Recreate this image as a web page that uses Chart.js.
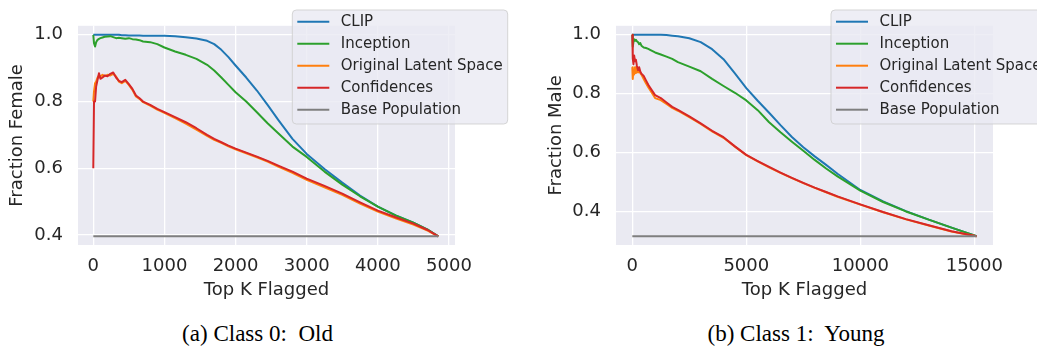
<!DOCTYPE html>
<html>
<head>
<meta charset="utf-8">
<script src="https://cdn.jsdelivr.net/npm/chart.js@4.4.1/dist/chart.umd.min.js"></script>
<style>
  html, body { margin: 0; padding: 0; background: #ffffff; }
  #wrap { position: relative; width: 1037px; height: 351px; overflow: hidden; background: #fff; }
  canvas { position: absolute; top: 0; }
  #c1 { left: 0px; }
  #c2 { left: 520px; }
  .cap { position: absolute; top: 321px; font-family: "Liberation Serif", "DejaVu Serif", serif; font-size: 23px; color: #000; white-space: pre; transform: translateX(-50%); }
</style>
</head>
<body>
<div id="wrap">
  <canvas id="c1" width="518" height="310"></canvas>
  <canvas id="c2" width="517" height="310"></canvas>
  <div class="cap" style="left:257.5px">(a) Class 0:  Old</div>
  <div class="cap" style="left:796px">(b) Class 1:  Young</div>
</div>
<script>
// ---------- Data: (a) Class 0: Old ----------
const seriesLabels = ["CLIP", "Inception", "Original Latent Space", "Confidences", "Base Population"];
const seriesColors = ["#1f77b4", "#2ca02c", "#ff7f0e", "#d62728", "#7f7f7f"];

const oldK = [0, 10, 25, 40, 60, 80, 100, 130, 160, 200, 240, 280, 320, 360, 400, 450, 500, 550, 600, 650, 700, 800, 900, 1000, 1150, 1300, 1450, 1600, 1700, 1800, 1900, 2000, 2150, 2300, 2450, 2600, 2800, 3000, 3250, 3500, 3750, 4000, 4250, 4500, 4700, 4850];
const oldClip = [1.0, 1.0, 1.0, 1.0, 1.0, 1.0, 1.0, 1.0, 1.0, 1.0, 1.0, 1.0, 1.0, 1.0, 0.999, 0.999, 0.998, 0.998, 0.998, 0.998, 0.997, 0.997, 0.997, 0.997, 0.996, 0.993, 0.989, 0.982, 0.972, 0.955, 0.933, 0.908, 0.872, 0.833, 0.79, 0.745, 0.688, 0.643, 0.598, 0.557, 0.518, 0.485, 0.459, 0.437, 0.416, 0.396];
const oldInception = [1.0, 0.975, 0.965, 0.978, 0.985, 0.988, 0.99, 0.992, 0.994, 0.995, 0.996, 0.993, 0.99, 0.991, 0.99, 0.988, 0.99, 0.987, 0.986, 0.984, 0.98, 0.978, 0.972, 0.962, 0.95, 0.94, 0.928, 0.91, 0.893, 0.872, 0.85, 0.828, 0.8, 0.768, 0.735, 0.705, 0.665, 0.634, 0.59, 0.551, 0.516, 0.485, 0.459, 0.437, 0.416, 0.396];
const oldLatent = [0.80, 0.83, 0.855, 0.86, 0.872, 0.878, 0.875, 0.88, 0.876, 0.88, 0.878, 0.883, 0.875, 0.86, 0.855, 0.862, 0.85, 0.835, 0.815, 0.808, 0.798, 0.788, 0.776, 0.766, 0.75, 0.734, 0.716, 0.697, 0.685, 0.676, 0.666, 0.657, 0.645, 0.633, 0.62, 0.605, 0.586, 0.565, 0.543, 0.52, 0.494, 0.47, 0.45, 0.431, 0.413, 0.396];
const oldConf = [0.60, 0.80, 0.80, 0.845, 0.865, 0.885, 0.868, 0.872, 0.878, 0.876, 0.883, 0.887, 0.872, 0.862, 0.858, 0.865, 0.852, 0.838, 0.818, 0.81, 0.80, 0.79, 0.778, 0.768, 0.753, 0.738, 0.72, 0.70, 0.688, 0.678, 0.668, 0.659, 0.647, 0.635, 0.622, 0.608, 0.59, 0.569, 0.547, 0.524, 0.498, 0.473, 0.453, 0.434, 0.415, 0.396];
const oldBaseK = [0, 4850];
const oldBase = [0.396, 0.396];
const oldXTicks = [0, 1000, 2000, 3000, 4000, 5000];
const oldYTicks = [0.4, 0.6, 0.8, 1.0];

// ---------- Data: (b) Class 1: Young ----------
const youngK = [0, 20, 50, 80, 120, 160, 200, 250, 300, 350, 400, 500, 600, 700, 800, 1000, 1250, 1500, 1750, 2000, 2500, 3000, 3500, 4000, 4500, 5000, 5500, 6000, 6500, 7000, 7500, 8000, 8500, 9000, 10000, 11000, 12000, 13000, 14000, 15100];
const youngClip = [1.0, 1.0, 1.0, 1.0, 1.0, 1.0, 1.0, 1.0, 1.0, 1.0, 1.0, 1.0, 1.0, 1.0, 1.0, 1.0, 1.0, 0.999, 0.997, 0.995, 0.988, 0.975, 0.951, 0.917, 0.869, 0.819, 0.776, 0.735, 0.693, 0.653, 0.618, 0.587, 0.558, 0.528, 0.473, 0.434, 0.401, 0.372, 0.345, 0.316];
const youngInception = [1.0, 0.96, 0.975, 0.985, 0.98, 0.983, 0.978, 0.975, 0.968, 0.972, 0.963, 0.957, 0.955, 0.952, 0.948, 0.94, 0.933, 0.926, 0.918, 0.907, 0.892, 0.876, 0.85, 0.826, 0.803, 0.777, 0.744, 0.703, 0.669, 0.637, 0.606, 0.575, 0.546, 0.519, 0.471, 0.432, 0.4, 0.372, 0.345, 0.316];
const youngLatent = [0.89, 0.85, 0.88, 0.865, 0.89, 0.87, 0.885, 0.872, 0.88, 0.87, 0.865, 0.85, 0.835, 0.822, 0.81, 0.785, 0.778, 0.765, 0.752, 0.742, 0.72, 0.697, 0.672, 0.65, 0.62, 0.591, 0.57, 0.55, 0.531, 0.513, 0.496, 0.48, 0.465, 0.45, 0.423, 0.397, 0.373, 0.352, 0.332, 0.316];
const youngConf = [1.0, 0.92, 0.90, 0.93, 0.91, 0.915, 0.895, 0.88, 0.89, 0.875, 0.868, 0.86, 0.845, 0.83, 0.818, 0.795, 0.785, 0.77, 0.755, 0.745, 0.723, 0.699, 0.674, 0.652, 0.621, 0.592, 0.571, 0.551, 0.532, 0.514, 0.497, 0.481, 0.466, 0.451, 0.424, 0.398, 0.374, 0.353, 0.333, 0.316];
const youngBaseK = [0, 15100];
const youngBase = [0.316, 0.316];
const youngXTicks = [0, 5000, 10000, 15000];
const youngYTicks = [0.4, 0.6, 0.8, 1.0];

// ---------- helpers ----------
const TXT = "#262626";
const FONT = "'DejaVu Sans', sans-serif";

function pts(ks, vs) { return ks.map((k, i) => ({ x: k, y: vs[i] })); }

const plotBg = {
  id: 'plotBg',
  beforeDraw(chart) {
    const { ctx, chartArea: a } = chart;
    ctx.save();
    ctx.fillStyle = '#EAEAF2';
    ctx.fillRect(a.left, a.top, a.right - a.left, a.bottom - a.top);
    ctx.restore();
  }
};

const mplLegend = {
  id: 'mplLegend',
  afterDraw(chart, args, opts) {
    const ctx = chart.ctx;
    const { x, y, w, h } = opts.box;
    ctx.save();
    const r = 4;
    ctx.beginPath();
    ctx.moveTo(x + r, y);
    ctx.lineTo(x + w - r, y);
    ctx.quadraticCurveTo(x + w, y, x + w, y + r);
    ctx.lineTo(x + w, y + h - r);
    ctx.quadraticCurveTo(x + w, y + h, x + w - r, y + h);
    ctx.lineTo(x + r, y + h);
    ctx.quadraticCurveTo(x, y + h, x, y + h - r);
    ctx.lineTo(x, y + r);
    ctx.quadraticCurveTo(x, y, x + r, y);
    ctx.closePath();
    ctx.fillStyle = 'rgba(234,234,242,0.8)';
    ctx.fill();
    ctx.strokeStyle = 'rgba(204,204,204,0.8)';
    ctx.lineWidth = 1;
    ctx.stroke();
    ctx.font = "15px " + FONT;
    ctx.textBaseline = 'middle';
    ctx.textAlign = 'left';
    chart.data.datasets.forEach((ds, i) => {
      const yy = y + 11.7 + 22 * i;
      ctx.beginPath();
      ctx.moveTo(x + 5, yy);
      ctx.lineTo(x + 37, yy);
      ctx.strokeStyle = ds.borderColor;
      ctx.lineWidth = 2;
      ctx.stroke();
      ctx.fillStyle = TXT;
      ctx.fillText(ds.label, x + 48.5, yy + 0.5);
    });
    ctx.restore();
  }
};

function makeChart(canvasId, cfg) {
  const datasets = [
    { label: seriesLabels[0], data: pts(cfg.k, cfg.clip), borderColor: seriesColors[0], order: 4 },
    { label: seriesLabels[1], data: pts(cfg.k, cfg.inception), borderColor: seriesColors[1], order: 3 },
    { label: seriesLabels[2], data: pts(cfg.k, cfg.latent), borderColor: seriesColors[2], order: 2 },
    { label: seriesLabels[3], data: pts(cfg.k, cfg.conf), borderColor: seriesColors[3], order: 1 },
    { label: seriesLabels[4], data: pts(cfg.baseK, cfg.base), borderColor: seriesColors[4], order: 0 }
  ].map(d => Object.assign(d, { borderWidth: 2, pointRadius: 0, tension: 0, fill: false, borderJoinStyle: 'round', borderCapStyle: 'butt' }));

  return new Chart(document.getElementById(canvasId), {
    type: 'line',
    data: { datasets },
    plugins: [plotBg, mplLegend],
    options: {
      responsive: false,
      animation: false,
      devicePixelRatio: 1,
      layout: { padding: { left: 0, top: cfg.padTop, right: cfg.padRight, bottom: 0 } },
      plugins: {
        legend: { display: false },
        tooltip: { enabled: false },
        mplLegend: { box: cfg.legendBox }
      },
      scales: {
        x: {
          type: 'linear',
          min: cfg.xMin, max: cfg.xMax,
          afterBuildTicks: (s) => { s.ticks = cfg.xTicks.map(v => ({ value: v })); },
          afterFit: (s) => { s.height = cfg.xAxisH; },
          grid: { color: '#ffffff', lineWidth: 1.3, drawTicks: false },
          border: { display: false },
          ticks: { padding: 11, color: TXT, font: { family: FONT, size: 18 }, maxRotation: 0, autoSkip: false, callback: (v) => String(v) },
          title: { display: true, text: 'Top K Flagged', color: TXT, font: { family: FONT, size: 18 }, padding: { top: 0, bottom: 8.8 } }
        },
        y: {
          type: 'linear',
          min: cfg.yMin, max: cfg.yMax,
          afterBuildTicks: (s) => { s.ticks = cfg.yTicks.map(v => ({ value: v })); },
          afterFit: (s) => { s.width = cfg.yAxisW; },
          grid: { color: '#ffffff', lineWidth: 1.3, drawTicks: false },
          border: { display: false },
          ticks: { padding: 15, color: TXT, font: { family: FONT, size: 18 }, autoSkip: false, callback: (v) => Number(v).toFixed(1) },
          title: { display: true, text: cfg.yTitle, color: TXT, font: { family: FONT, size: 18 }, padding: { top: cfg.yTitlePad, bottom: 0 } }
        }
      }
    }
  });
}

makeChart('c1', {
  k: oldK, clip: oldClip, inception: oldInception, latent: oldLatent, conf: oldConf,
  baseK: oldBaseK, base: oldBase,
  xMin: -215, xMax: 5085, yMin: 0.370, yMax: 1.027,
  xTicks: oldXTicks, yTicks: oldYTicks,
  padTop: 25, padRight: 63, yAxisW: 78, xAxisH: 65,
  yTitle: 'Fraction Female', yTitlePad: 6.5,
  legendBox: { x: 292.3, y: 10, w: 215.4, h: 114 }
});

makeChart('c2', {
  k: youngK, clip: youngClip, inception: youngInception, latent: youngLatent, conf: youngConf,
  baseK: youngBaseK, base: youngBase,
  xMin: -715, xMax: 15820, yMin: 0.286, yMax: 1.0305,
  xTicks: youngXTicks, yTicks: youngYTicks,
  padTop: 25, padRight: 44, yAxisW: 96, xAxisH: 65,
  yTitle: 'Fraction Male', yTitlePad: 25.2,
  legendBox: { x: 311, y: 10, w: 215.4, h: 114 }
});
</script>
</body>
</html>
